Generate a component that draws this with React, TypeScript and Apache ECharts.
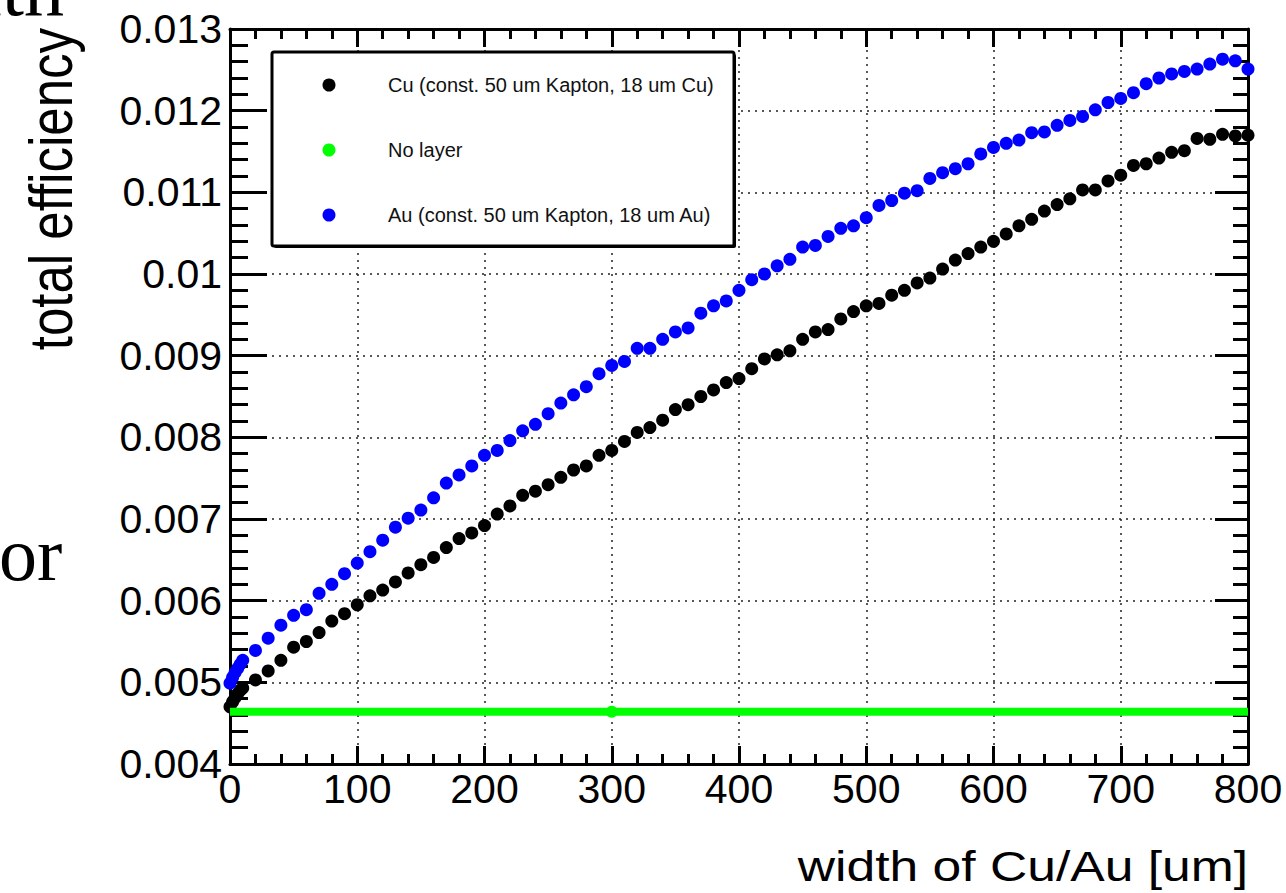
import React, { useEffect, useRef } from "react";
import * as echarts from "echarts";

const xCu = [0, 2, 4, 6, 8, 10, 20, 30, 40, 50, 60, 70, 80, 90, 100, 110, 120, 130, 140, 150, 160, 170, 180, 190, 200, 210, 220, 230, 240, 250, 260, 270, 280, 290, 300, 310, 320, 330, 340, 350, 360, 370, 380, 390, 400, 410, 420, 430, 440, 450, 460, 470, 480, 490, 500, 510, 520, 530, 540, 550, 560, 570, 580, 590, 600, 610, 620, 630, 640, 650, 660, 670, 680, 690, 700, 710, 720, 730, 740, 750, 760, 770, 780, 790, 800];
const yCu = [0.0047, 0.00476, 0.00481, 0.00486, 0.0049, 0.00493, 0.00503, 0.00514, 0.00527, 0.00543, 0.0055, 0.00561, 0.00575, 0.00584, 0.00595, 0.00606, 0.00613, 0.00623, 0.00634, 0.00644, 0.00653, 0.00665, 0.00676, 0.00683, 0.00692, 0.00706, 0.00716, 0.00729, 0.00734, 0.00742, 0.00751, 0.0076, 0.00765, 0.00778, 0.00784, 0.00795, 0.00806, 0.00812, 0.00821, 0.00834, 0.0084, 0.0085, 0.00858, 0.00867, 0.00872, 0.00884, 0.00896, 0.00901, 0.00906, 0.0092, 0.00929, 0.00932, 0.00945, 0.00954, 0.00961, 0.00964, 0.00974, 0.0098, 0.00989, 0.00995, 0.01006, 0.01017, 0.01025, 0.01033, 0.0104, 0.01049, 0.01059, 0.01067, 0.01077, 0.01085, 0.01092, 0.01103, 0.01103, 0.01114, 0.01121, 0.01133, 0.01135, 0.01142, 0.01149, 0.01151, 0.01166, 0.01165, 0.01171, 0.01169, 0.0117];
const xAu = xCu;
const yAu = [0.00499, 0.00506, 0.00512, 0.00517, 0.00522, 0.00527, 0.00539, 0.00554, 0.0057, 0.00582, 0.00589, 0.00609, 0.0062, 0.00633, 0.00646, 0.0066, 0.00674, 0.0069, 0.00701, 0.00711, 0.00726, 0.00744, 0.00754, 0.00765, 0.00778, 0.00784, 0.00796, 0.00808, 0.00816, 0.00829, 0.00842, 0.00852, 0.00862, 0.00878, 0.00888, 0.00893, 0.00909, 0.00909, 0.0092, 0.00929, 0.00934, 0.00952, 0.00961, 0.00967, 0.0098, 0.00993, 0.01, 0.0101, 0.01018, 0.01033, 0.01035, 0.01046, 0.01056, 0.01059, 0.01069, 0.01084, 0.0109, 0.01099, 0.01102, 0.01117, 0.01124, 0.01129, 0.01135, 0.01147, 0.01155, 0.0116, 0.01164, 0.01173, 0.01174, 0.01182, 0.01188, 0.01193, 0.01201, 0.0121, 0.01215, 0.01222, 0.01233, 0.0124, 0.01245, 0.01248, 0.01251, 0.01257, 0.01263, 0.01261, 0.01251];
const xNoLayer = [0, 300, 800];
const yNoLayer = [0.00464, 0.00464, 0.00464];
const noLayerMarker = [false, true, false];

const legendNames = ["Cu (const. 50 um Kapton, 18 um Cu)", "No layer", "Au (const. 50 um Kapton, 18 um Au)"];
const legendColors = ["#000000", "#00ff00", "#0000ff"];
const xTitle = "width of Cu/Au [um]";
const yTitle = "total efficiency";

const SANS = "'Liberation Sans', Arial, sans-serif";
const SERIF = "'Liberation Serif', 'Times New Roman', serif";

export default function App() {
  const ref = useRef<HTMLDivElement>(null);
  useEffect(() => {
    if (!ref.current) return;
    const chart = echarts.init(ref.current, null, { renderer: "svg" });
    const axisLine = { show: true, onZero: false, lineStyle: { color: "#000", width: 3 } };
    const tickStyle = { color: "#000", width: 3 };
    const grid = { show: true, lineStyle: { color: "#222", width: 1.5, type: [2, 5] as any } };

    const legendGraphics: any[] = [
      { type: "rect", shape: { x: 274, y: 54, width: 462, height: 194, r: 2 }, style: { fill: "#000" }, z: 100 },
      { type: "rect", shape: { x: 272, y: 52, width: 462, height: 194, r: 2 }, style: { fill: "#fff", stroke: "#000", lineWidth: 3 }, z: 101 },
    ];
    const rowY = [85, 150, 215];
    legendNames.forEach((n, i) => {
      legendGraphics.push({ type: "circle", shape: { cx: 329, cy: rowY[i], r: 6.5 }, style: { fill: legendColors[i] }, z: 102 });
      legendGraphics.push({ type: "text", x: 388, y: rowY[i], style: { text: n, fontSize: 20, fontFamily: SANS, fill: "#111", align: "left", verticalAlign: "middle" }, z: 102 });
    });

    chart.setOption({
      animation: false,
      backgroundColor: "#fff",
      grid: { left: 230, right: 38, top: 29, bottom: 129 },
      xAxis: [
        {
          type: "value", min: 0, max: 800, interval: 100, position: "bottom",
          axisLine, axisTick: { show: true, inside: true, length: 18, lineStyle: tickStyle },
          minorTick: { show: true, splitNumber: 5, length: 10, lineStyle: tickStyle },
          axisLabel: { margin: 4, fontSize: 41, color: "#000", fontFamily: SANS },
          splitLine: grid,
        },
        {
          type: "value", min: 0, max: 800, interval: 100, position: "top",
          axisLine, axisTick: { show: true, inside: true, length: 18, lineStyle: tickStyle },
          minorTick: { show: true, splitNumber: 5, length: 10, lineStyle: tickStyle },
          axisLabel: { show: false }, splitLine: { show: false },
        },
      ],
      yAxis: [
        {
          type: "value", min: 0.004, max: 0.013, interval: 0.001, position: "left",
          axisLine, axisTick: { show: true, inside: true, length: 37, lineStyle: tickStyle },
          minorTick: { show: true, splitNumber: 5, length: 18, lineStyle: tickStyle },
          axisLabel: {
            margin: 8, fontSize: 41, color: "#000", fontFamily: SANS,
            formatter: (v: number) => String(parseFloat(v.toFixed(4))),
          },
          splitLine: grid,
        },
        {
          type: "value", min: 0.004, max: 0.013, interval: 0.001, position: "right",
          axisLine, axisTick: { show: true, inside: true, length: 33, lineStyle: tickStyle },
          minorTick: { show: true, splitNumber: 5, length: 15, lineStyle: tickStyle },
          axisLabel: { show: false }, splitLine: { show: false },
        },
      ],
      series: [
        {
          name: legendNames[0], type: "scatter", symbol: "circle", symbolSize: 13,
          itemStyle: { color: legendColors[0], opacity: 1 }, data: xCu.map((x, i) => [x, yCu[i]]),
        },
        {
          name: legendNames[1], type: "line", symbol: "circle",
          lineStyle: { color: legendColors[1], width: 8 }, itemStyle: { color: legendColors[1], opacity: 1 },
          data: xNoLayer.map((x, i) => ({ value: [x, yNoLayer[i]], symbolSize: noLayerMarker[i] ? 12 : 0 })),
        },
        {
          name: legendNames[2], type: "scatter", symbol: "circle", symbolSize: 13,
          itemStyle: { color: legendColors[2], opacity: 1 }, data: xAu.map((x, i) => [x, yAu[i]]),
        },
      ],
      graphic: [
        ...legendGraphics,
        { type: "text", x: 1248, y: 866, scaleX: 1.2, style: { text: xTitle, fontSize: 43, fontFamily: SANS, fill: "#000", align: "right", verticalAlign: "middle" } },
        { type: "text", x: 51, y: 28, rotation: Math.PI / 2, scaleY: 1.2, style: { text: yTitle, fontSize: 51, fontFamily: SANS, fill: "#000", align: "right", verticalAlign: "middle" } },
        { type: "text", x: 64, y: -12, style: { text: "uth", fontSize: 80, fontFamily: SERIF, fill: "#000", align: "right", verticalAlign: "middle" } },
        { type: "text", x: -1, y: 554, style: { text: "or", fontSize: 76, fontFamily: SERIF, fill: "#000", align: "left", verticalAlign: "middle" } },
      ],
    });
    return () => chart.dispose();
  }, []);
  return <div ref={ref} style={{ position: "absolute", left: 0, top: 0, width: 1286, height: 893 }} />;
}
